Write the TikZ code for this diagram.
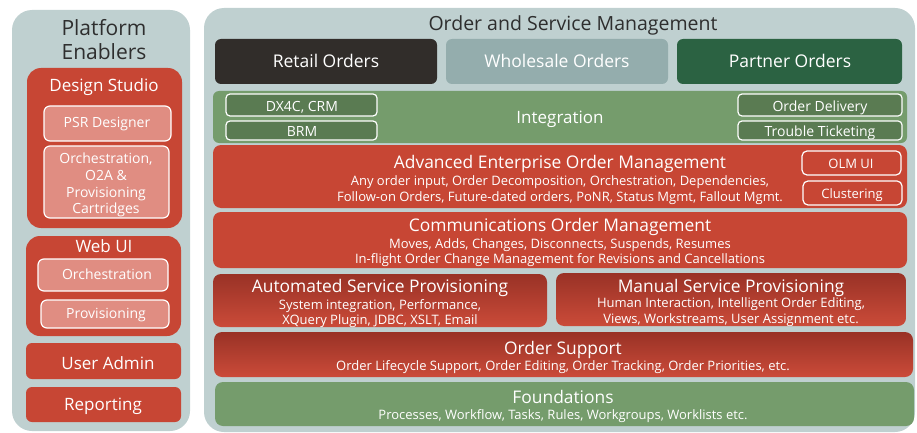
\documentclass[tikz,border=0pt]{standalone}
\usepackage{fontspec}
\setmainfont{Open Sans}
\definecolor{panelbg}{HTML}{BFD0D0}
\definecolor{ored}{HTML}{C74634}
\definecolor{pink}{HTML}{E08D82}
\definecolor{retail}{HTML}{312D2A}
\definecolor{whole}{HTML}{94ADAD}
\definecolor{partner}{HTML}{2B6242}
\definecolor{igreen}{HTML}{759C6C}
\definecolor{dgreen}{HTML}{5A7B52}
\definecolor{gtop}{HTML}{993226}
\definecolor{gbot}{HTML}{CB4B39}
\definecolor{ink}{HTML}{2E2E2E}
\newcommand{\fs}[1]{\fontsize{#1}{#1}\selectfont}
\begin{document}
\begin{tikzpicture}[x=1pt,y=-1pt,
  bx/.style={draw=none,inner sep=0pt,outer sep=0pt,anchor=north west,rounded corners=8pt},
  panel/.style={bx,fill=panelbg,rounded corners=20pt},
  redbox/.style={bx,fill=ored},
  gradbox/.style={bx,top color=gtop,bottom color=gbot},
  pinkbox/.style={bx,fill=pink,draw=white,line width=1.2pt,rounded corners=6pt},
  subbox/.style={bx,fill=dgreen,draw=white,line width=1.2pt,rounded corners=4pt},
  olmbox/.style={bx,fill=ored,draw=white,line width=1.2pt,rounded corners=5pt},
  wt/.style={text=white,anchor=base,inner sep=0pt},
  dt/.style={text=ink,anchor=base,inner sep=0pt},
  head/.style={wt,font=\fs{17.4}},
  sub/.style={wt,font=\fs{13}},
]
\useasboundingbox (0,0) rectangle (917,433);
% panels
\node[panel,minimum width=178pt,minimum height=421pt] (lp) at (12,10) {};
\node[panel,minimum width=711pt,minimum height=424pt] (rp) at (204,8) {};
% left panel
\node[dt,font=\fs{21}] (pe1) at (104,36) {Platform};
\node[dt,font=\fs{21}] (pe2) at (104,60) {Enablers};
\node[redbox,rounded corners=14pt,minimum width=155pt,minimum height=160pt] (ds) at (27,68) {};
\node[wt,font=\fs{17}] (dst) at (104,92) {Design Studio};
\node[pinkbox,minimum width=127pt,minimum height=35pt] (psr) at (44,106) {};
\node[wt,font=\fs{14}] (psrt) at (107,128) {PSR Designer};
\node[pinkbox,minimum width=125pt,minimum height=72pt] (orc) at (44,146) {};
\node[wt,font=\fs{14}] (orc1) at (106,163) {Orchestration,};
\node[wt,font=\fs{14}] (orc2) at (106,180) {O2A \&};
\node[wt,font=\fs{14}] (orc3) at (106,197) {Provisioning};
\node[wt,font=\fs{14}] (orc4) at (106,213) {Cartridges};
\node[redbox,rounded corners=14pt,minimum width=155pt,minimum height=100pt] (wu) at (26,236) {};
\node[wt,font=\fs{17}] (wut) at (104,252) {Web UI};
\node[pinkbox,minimum width=130pt,minimum height=32pt] (wo) at (38,259) {};
\node[wt,font=\fs{14}] (wot) at (107,279) {Orchestration};
\node[pinkbox,minimum width=128pt,minimum height=28pt] (wp) at (41,300) {};
\node[wt,font=\fs{14}] (wpt) at (106,318) {Provisioning};
\node[redbox,rounded corners=6pt,minimum width=155pt,minimum height=36pt] (ua) at (26,343) {};
\node[wt,font=\fs{17}] (uat) at (108,369) {User Admin};
\node[redbox,rounded corners=6pt,minimum width=155pt,minimum height=35pt] (rep) at (26,387) {};
\node[wt,font=\fs{17}] (rept) at (103,410) {Reporting};
% right panel
\node[dt,font=\fs{19.5}] (osm) at (573,31) {Order and Service Management};
\node[bx,fill=retail,rounded corners=6pt,minimum width=222pt,minimum height=45pt] (ro) at (215,39) {};
\node[wt,font=\fs{17.5}] (rot) at (326,68) {Retail Orders};
\node[bx,fill=whole,rounded corners=6pt,minimum width=222pt,minimum height=45pt] (wo2) at (446,39) {};
\node[wt,font=\fs{17.5}] (wot2) at (557,68) {Wholesale Orders};
\node[bx,fill=partner,rounded corners=6pt,minimum width=225pt,minimum height=45pt] (po) at (677,39) {};
\node[wt,font=\fs{17.5}] (pot) at (790,68) {Partner Orders};
% integration
\node[bx,fill=igreen,rounded corners=6pt,minimum width=694pt,minimum height=52pt] (int) at (213,91) {};
\node[wt,font=\fs{17}] (intt) at (560,124) {Integration};
\node[subbox,minimum width=151pt,minimum height=22pt] (dx) at (226,94) {};
\node[wt,font=\fs{14}] (dxt) at (302,111) {DX4C, CRM};
\node[subbox,minimum width=151pt,minimum height=19pt] (brm) at (226,121) {};
\node[wt,font=\fs{14}] (brmt) at (302,136) {BRM};
\node[subbox,minimum width=164pt,minimum height=22pt] (od) at (738,94) {};
\node[wt,font=\fs{14}] (odt) at (820,111) {Order Delivery};
\node[subbox,minimum width=164pt,minimum height=19pt] (tt) at (738,121) {};
\node[wt,font=\fs{14}] (ttt) at (820,136) {Trouble Ticketing};
% AEOM
\node[redbox,minimum width=694pt,minimum height=63pt] (aeom) at (213,145) {};
\node[head] (aeomt) at (560,168) {Advanced Enterprise Order Management};
\node[sub] (aeom1) at (560,185) {Any order input, Order Decomposition, Orchestration, Dependencies,};
\node[sub] (aeom2) at (560,201) {Follow-on Orders, Future-dated orders, PoNR, Status Mgmt, Fallout Mgmt.};
\node[olmbox,minimum width=99pt,minimum height=24pt] (olm) at (802,151) {};
\node[sub] (olmt) at (851,168) {OLM UI};
\node[olmbox,minimum width=99pt,minimum height=24pt] (clu) at (803,181) {};
\node[sub] (clut) at (852,198) {Clustering};
% COM
\node[redbox,minimum width=694pt,minimum height=56pt] (com) at (213,212) {};
\node[head] (comt) at (560,231) {Communications Order Management};
\node[sub] (com1) at (560,248) {Moves, Adds, Changes, Disconnects, Suspends, Resumes};
\node[sub] (com2) at (560,263) {In-flight Order Change Management for Revisions and Cancellations};
% provisioning
\node[gradbox,minimum width=334pt,minimum height=53pt] (asp) at (213,274) {};
\node[head] (aspt) at (380,292) {Automated Service Provisioning};
\node[sub] (asp1) at (380,309) {System integration, Performance,};
\node[sub] (asp2) at (380,324) {XQuery Plugin, JDBC, XSLT, Email};
\node[gradbox,minimum width=350pt,minimum height=53pt] (msp) at (556,273) {};
\node[head] (mspt) at (731,292) {Manual Service Provisioning};
\node[sub] (msp1) at (731,307) {Human Interaction, Intelligent Order Editing,};
\node[sub] (msp2) at (731,323) {Views, Workstreams, User Assignment etc.};
% order support
\node[gradbox,minimum width=699pt,minimum height=45pt] (os) at (214,332) {};
\node[head] (ost) at (563,354) {Order Support};
\node[sub] (os1) at (563,370) {Order Lifecycle Support, Order Editing, Order Tracking, Order Priorities, etc.};
% foundations
\node[bx,fill=igreen,minimum width=699pt,minimum height=44pt] (fd) at (215,382) {};
\node[head] (fdt) at (563,403) {Foundations};
\node[sub] (fd1) at (563,419) {Processes, Workflow, Tasks, Rules, Workgroups, Worklists etc.};
\end{tikzpicture}
\end{document}
